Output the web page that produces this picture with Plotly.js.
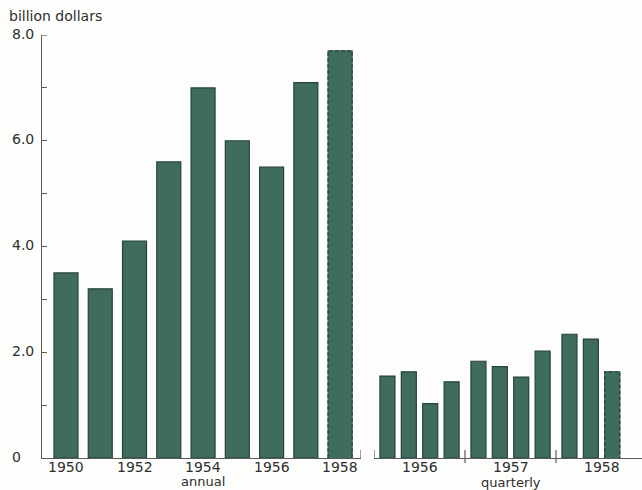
<!DOCTYPE html>
<html><head><meta charset="utf-8">
<script src="https://cdn.plot.ly/plotly-3.0.1.min.js"></script>
<style>body{margin:0;background:#fdfdfb}</style>
</head><body><div id="chart" style="width:642px;height:490px"></div>
<script>
// ---- data ----
const annualYears = [1950, 1951, 1952, 1953, 1954, 1955, 1956, 1957, 1958];
const annualValues = [3.5, 3.2, 4.1, 5.6, 7.0, 6.0, 5.5, 7.1, 7.7];
const annualTickYears = [1950, 1952, 1954, 1956, 1958];
const quarterYears = [1956, 1956, 1956, 1956, 1957, 1957, 1957, 1957, 1958, 1958, 1958];
const quarterNums = [1, 2, 3, 4, 1, 2, 3, 4, 1, 2, 3];
const quarterValues = [1.55, 1.63, 1.03, 1.44, 1.83, 1.73, 1.53, 2.02, 2.34, 2.25, 1.63];
const quarterYearLabels = [1956, 1957, 1958];
const yTickValues = [0, 2, 4, 6, 8];
const yTickLabels = ['0', '2.0', '4.0', '6.0', '8.0'];
// preliminary (dashed-outline) bars
const annualPrelim = [false, false, false, false, false, false, false, false, true];
const quarterPrelim = [false, false, false, false, false, false, false, false, false, false, true];

// ---- styling / layout helpers ----
const fill = '#3f6c5f', edge = '#24433a', ink = '#2e2e2e', axisCol = '#5a5a5a';
const font = 'DejaVu Sans';
const QSTEP = 0.235, ABW = 0.7, QBW = 0.165;
const qx = quarterYears.map((y, i) => y + (quarterNums[i] - 1) * QSTEP);

const traces = [
  {type: 'bar', x: annualYears, y: annualValues, width: ABW, xaxis: 'x', yaxis: 'y',
   marker: {color: fill, line: {color: annualPrelim.map(p => p ? fill : edge), width: 1.2}},
   hoverinfo: 'x+y'},
  {type: 'bar', x: qx, y: quarterValues, width: QBW, xaxis: 'x2', yaxis: 'y',
   marker: {color: fill, line: {color: quarterPrelim.map(p => p ? fill : edge), width: 1.2}},
   hoverinfo: 'y'}
];
annualYears.forEach((y, i) => {
  if (annualPrelim[i]) {
    const v = annualValues[i], h = ABW / 2;
    traces.push({type: 'scatter', mode: 'lines', xaxis: 'x', yaxis: 'y', hoverinfo: 'skip',
      x: [y - h, y - h, y + h, y + h], y: [0, v, v, 0],
      line: {color: edge, width: 1.3, dash: '4px,2px'}, showlegend: false});
  }
});
qx.forEach((x, i) => {
  if (quarterPrelim[i]) {
    const v = quarterValues[i], h = QBW / 2;
    traces.push({type: 'scatter', mode: 'lines', xaxis: 'x2', yaxis: 'y', hoverinfo: 'skip',
      x: [x - h, x - h, x + h, x + h], y: [0, v, v, 0],
      line: {color: edge, width: 1.3, dash: '4px,2px'}, showlegend: false});
  }
});

const aRange = [1949.30, 1958.61];
const qRange = [1955.852, 1958.797];
const sepX = quarterYearLabels.slice(0, -1).map(y => y + 0.5 * (3 * QSTEP + 1));
const PH = 423;
const yearLabY = -8.5 / PH, subLabY = -23 / PH;

const tf = s => ({family: font, size: s, color: ink});
const annotations = yTickValues.map((v, i) => ({
  text: yTickLabels[i], xref: 'paper', yref: 'paper', x: -0.0533, y: v / 8 + 1.5 / PH,
  xanchor: 'left', yanchor: 'middle', showarrow: false, font: tf(14)
}));
annualTickYears.forEach(y => annotations.push({text: String(y), xref: 'x', yref: 'paper', x: y, y: yearLabY,
  xanchor: 'center', yanchor: 'middle', showarrow: false, font: tf(14)}));
quarterYearLabels.forEach(y => annotations.push({text: String(y), xref: 'x2', yref: 'paper', x: y + 1.5 * QSTEP, y: yearLabY,
  xanchor: 'center', yanchor: 'middle', showarrow: false, font: tf(14)}));
annotations.push({text: 'annual', xref: 'x', yref: 'paper', x: 1954, y: subLabY,
  xanchor: 'center', yanchor: 'middle', showarrow: false, font: tf(13)});
annotations.push({text: 'quarterly', xref: 'x2', yref: 'paper', x: 1957 + 1.5 * QSTEP, y: subLabY - 1.5 / PH,
  xanchor: 'center', yanchor: 'middle', showarrow: false, font: tf(13)});

const shapes = [
  {type: 'line', xref: 'x', yref: 'paper', x0: aRange[1], x1: aRange[1], y0: 0, y1: 0.019, line: {color: axisCol, width: 1.2}},
  {type: 'line', xref: 'x2', yref: 'paper', x0: qRange[0], x1: qRange[0], y0: 0, y1: 0.019, line: {color: axisCol, width: 1.2}},
  {type: 'line', xref: 'paper', yref: 'y', x0: 0, x1: 0.009, y0: 8, y1: 8, line: {color: axisCol, width: 1.2}}
];
sepX.forEach(x => shapes.push({type: 'line', xref: 'x2', yref: 'paper', x0: x, x1: x, y0: -0.012, y1: 0.019,
  line: {color: axisCol, width: 1.2}}));

const layout = {
  width: 642, height: 490,
  margin: {l: 42, r: 0, t: 35, b: 32},
  paper_bgcolor: '#fdfdfb', plot_bgcolor: '#fdfdfb',
  showlegend: false, bargap: 0,
  font: {family: font, color: ink},
  title: {text: 'billion dollars', xref: 'container', yref: 'container', x: 9 / 642, xanchor: 'left',
    y: 1 - 16 / 490, yanchor: 'middle', font: tf(14)},
  xaxis: {domain: [0, 0.5317], range: aRange, showgrid: false, zeroline: false, showline: true,
    linecolor: axisCol, linewidth: 1.2, ticks: '', showticklabels: false, anchor: 'y', fixedrange: true},
  xaxis2: {domain: [0.5533, 1], range: qRange, showgrid: false, zeroline: false, showline: true,
    linecolor: axisCol, linewidth: 1.2, ticks: '', showticklabels: false, anchor: 'y', fixedrange: true},
  yaxis: {range: [0, 8], showgrid: false, zeroline: false, showline: true, linecolor: axisCol, linewidth: 1.2,
    ticks: 'inside', ticklen: 5, tickcolor: axisCol, tickwidth: 1.2, dtick: 1, tick0: 0, showticklabels: false, fixedrange: true},
  annotations: annotations,
  shapes: shapes
};

Plotly.newPlot('chart', traces, layout, {displayModeBar: false, staticPlot: true});
</script>
</body></html>
